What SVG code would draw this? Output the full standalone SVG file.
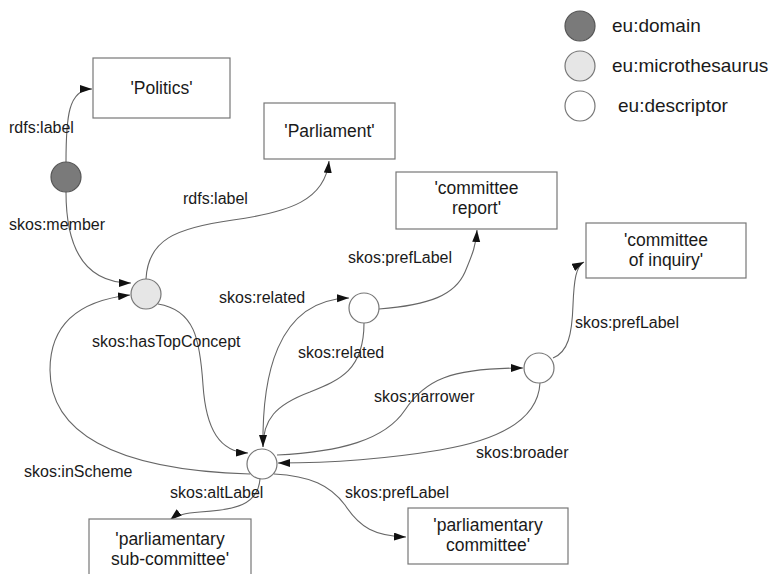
<svg xmlns="http://www.w3.org/2000/svg" width="773" height="574" viewBox="0 0 773 574">
<style>
.box{fill:#fff;stroke:#777;stroke-width:1.2}
.bt{font-family:"Liberation Sans",Arial,Helvetica,sans-serif;font-size:17.5px;fill:#1a1a1a;text-anchor:middle}
.lbl{font-family:"Liberation Sans",Arial,Helvetica,sans-serif;font-size:16px;fill:#1a1a1a}
.leg{font-family:"Liberation Sans",Arial,Helvetica,sans-serif;font-size:19px;fill:#1a1a1a}
.edge{fill:none;stroke:#666;stroke-width:1.1;marker-end:url(#arr)}
.dom{fill:#7a7a7a;stroke:#555;stroke-width:1.2}
.mic{fill:#e6e6e6;stroke:#777;stroke-width:1.2}
.des{fill:#fff;stroke:#777;stroke-width:1.2}
</style>
<defs>
<marker id="arr" markerUnits="userSpaceOnUse" markerWidth="13" markerHeight="9" refX="12" refY="4" orient="auto">
<path d="M0,0 L12,4 L0,8 z" fill="#111"/>
</marker>
</defs>
<rect width="773" height="574" fill="#fff"/>

<g id="legend">
<circle class="dom" cx="580" cy="26" r="15"/>
<text class="leg" x="612" y="32">eu:domain</text>
<circle class="mic" cx="580" cy="66" r="15"/>
<text class="leg" x="612" y="72">eu:microthesaurus</text>
<circle class="des" cx="580" cy="106" r="15"/>
<text class="leg" x="618" y="112">eu:descriptor</text>
</g>

<g id="connectors">
<path class="edge" d="M66,162 C66,118 68,89 92,89"/>
<path class="edge" d="M66,192 C66,262 95,283 131,283"/>
<path class="edge" d="M146,279 C148,240 175,228 233,220 C290,212 325,200 329,161"/>
<path class="edge" d="M158,304 C195,310 200,340 203,385 C206,430 220,452 248,453"/>
<path class="edge" d="M250,474 C110,470 50,430 50,370 C50,320 85,300 130,295"/>
<path class="edge" d="M263,447 C262,380 275,300 349,298"/>
<path class="edge" d="M364,323 C364,370 340,380 310,392 C275,405 263,420 263,447"/>
<path class="edge" d="M379,309 C430,305 455,295 465,272 C473,253 476,245 477,230"/>
<path class="edge" d="M277,455 C340,452 385,440 405,410 C425,380 450,368 523,368"/>
<path class="edge" d="M540,383 C538,420 500,440 440,450 C380,460 320,463 278,463"/>
<path class="edge" d="M553,358 C568,352 572,335 573,305 C574,280 576,266 584,262"/>
<path class="edge" d="M260,479 C258,505 235,510 200,512 C185,513 176,515 170,520"/>
<path class="edge" d="M274,474 C310,476 330,485 345,505 C360,528 375,536 406,537"/>
</g>

<g id="labels">
<text class="lbl" x="9" y="133">rdfs:label</text>
<text class="lbl" x="9" y="230">skos:member</text>
<text class="lbl" x="183" y="204">rdfs:label</text>
<text class="lbl" x="348" y="263">skos:prefLabel</text>
<text class="lbl" x="219" y="303">skos:related</text>
<text class="lbl" x="298" y="358">skos:related</text>
<text class="lbl" x="92" y="347">skos:hasTopConcept</text>
<text class="lbl" x="575" y="328">skos:prefLabel</text>
<text class="lbl" x="374" y="402">skos:narrower</text>
<text class="lbl" x="476" y="458">skos:broader</text>
<text class="lbl" x="24" y="477">skos:inScheme</text>
<text class="lbl" x="170" y="498">skos:altLabel</text>
<text class="lbl" x="345" y="498">skos:prefLabel</text>
</g>

<g id="n-domain"><circle class="dom" cx="66" cy="177" r="15"/></g>
<g id="n-micro"><circle class="mic" cx="146" cy="294" r="15"/></g>
<g id="n-desc-main"><circle class="des" cx="262" cy="464" r="15"/></g>
<g id="n-desc-related"><circle class="des" cx="364" cy="308" r="15"/></g>
<g id="n-desc-inquiry"><circle class="des" cx="539" cy="368" r="15"/></g>

<g id="b-politics"><rect class="box" x="93" y="58" width="137" height="60"/><text class="bt" x="161.5" y="94">'Politics'</text></g>
<g id="b-parliament"><rect class="box" x="264" y="103" width="131" height="56"/><text class="bt" x="329.5" y="137">'Parliament'</text></g>
<g id="b-report"><rect class="box" x="396" y="172" width="161" height="57"/><text class="bt" x="476.5" y="194">'committee</text><text class="bt" x="476.5" y="214">report'</text></g>
<g id="b-inquiry"><rect class="box" x="586" y="223" width="160" height="55"/><text class="bt" x="666" y="246">'committee</text><text class="bt" x="666" y="266">of inquiry'</text></g>
<g id="b-subcommittee"><rect class="box" x="89" y="519" width="162" height="70"/><text class="bt" x="170" y="545">'parliamentary</text><text class="bt" x="170" y="565">sub-committee'</text></g>
<g id="b-committee"><rect class="box" x="408" y="508" width="160" height="56"/><text class="bt" x="488" y="531">'parliamentary</text><text class="bt" x="488" y="551">committee'</text></g>
</svg>
